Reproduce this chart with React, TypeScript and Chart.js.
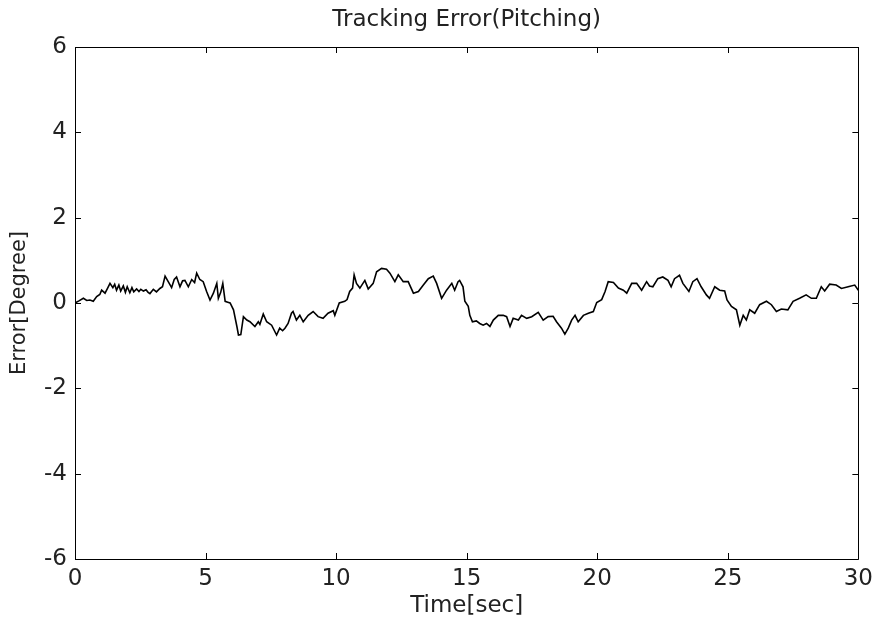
import React, { useEffect, useRef } from "react";
import { Chart, registerables } from "chart.js";

Chart.register(...registerables);

const titleText = "Tracking Error(Pitching)";
const xTitle = "Time[sec]";
const yTitle = "Error[Degree]";

const timeSec = [
  0, 0.15, 0.32, 0.45, 0.57, 0.7, 0.83, 0.95, 1.02, 1.15, 1.25, 1.34, 1.45, 1.52, 1.59, 1.68, 1.75, 1.85, 1.93, 2.0,
  2.1, 2.18, 2.25, 2.36, 2.45, 2.52, 2.62, 2.72, 2.8, 2.87, 3.0, 3.12, 3.25, 3.35, 3.45, 3.57, 3.7, 3.8, 3.89, 4.02,
  4.12, 4.21, 4.34, 4.47, 4.58, 4.66, 4.78, 4.91, 5.04, 5.17, 5.3, 5.43, 5.49, 5.58, 5.66, 5.75, 5.85, 5.94, 6.07, 6.2,
  6.26, 6.35, 6.45, 6.58, 6.7, 6.89, 7.02, 7.08, 7.21, 7.34, 7.53, 7.72, 7.84, 7.95, 8.04, 8.16, 8.29, 8.35, 8.48, 8.61,
  8.74, 8.93, 9.12, 9.31, 9.5, 9.69, 9.89, 9.95, 10.12, 10.33, 10.42, 10.52, 10.63, 10.69, 10.78, 10.91, 11.1, 11.23, 11.42, 11.55,
  11.74, 11.93, 12.06, 12.25, 12.38, 12.57, 12.76, 12.96, 13.15, 13.34, 13.53, 13.72, 13.85, 14.04, 14.23, 14.43, 14.54, 14.67, 14.73, 14.86,
  14.93, 15.06, 15.12, 15.22, 15.37, 15.5, 15.63, 15.76, 15.89, 16.02, 16.21, 16.4, 16.53, 16.66, 16.78, 16.98, 17.1, 17.3, 17.49, 17.74,
  17.93, 18.12, 18.31, 18.44, 18.63, 18.76, 18.89, 19.02, 19.15, 19.27, 19.47, 19.66, 19.85, 19.98, 20.17, 20.3, 20.42, 20.62, 20.81, 21.0,
  21.13, 21.32, 21.51, 21.7, 21.89, 22.0, 22.13, 22.32, 22.51, 22.71, 22.83, 22.96, 23.15, 23.28, 23.51, 23.66, 23.82, 23.98, 24.18, 24.3,
  24.5, 24.69, 24.88, 24.97, 25.14, 25.33, 25.46, 25.59, 25.71, 25.84, 26.03, 26.22, 26.48, 26.67, 26.86, 27.05, 27.3, 27.5, 27.75, 28.0,
  28.2, 28.39, 28.58, 28.71, 28.9, 29.15, 29.35, 29.61, 29.86, 30.0,
];

const errorDeg = [
  0.0, 0.05, 0.11, 0.06, 0.07, 0.04, 0.15, 0.2, 0.3, 0.23, 0.35, 0.46, 0.36, 0.44, 0.3, 0.42, 0.28, 0.4, 0.25, 0.38,
  0.24, 0.36, 0.26, 0.33, 0.27, 0.32, 0.28, 0.31, 0.25, 0.22, 0.32, 0.26, 0.34, 0.38, 0.63, 0.5, 0.36, 0.55, 0.61, 0.38,
  0.52, 0.53, 0.38, 0.55, 0.48, 0.7, 0.55, 0.5, 0.27, 0.07, 0.23, 0.46, 0.11, 0.25, 0.46, 0.04, 0.02, 0.0, -0.16, -0.55,
  -0.75, -0.74, -0.32, -0.4, -0.44, -0.55, -0.44, -0.5, -0.26, -0.44, -0.52, -0.75, -0.59, -0.65, -0.59, -0.48, -0.24, -0.2, -0.4, -0.29,
  -0.44, -0.29, -0.2, -0.32, -0.36, -0.24, -0.18, -0.29, 0.0, 0.04, 0.08, 0.27, 0.35, 0.66, 0.46, 0.35, 0.53, 0.33, 0.46, 0.73,
  0.81, 0.79, 0.7, 0.5, 0.66, 0.5, 0.5, 0.23, 0.27, 0.42, 0.57, 0.63, 0.46, 0.11, 0.3, 0.46, 0.3, 0.5, 0.53, 0.38,
  0.04, -0.08, -0.29, -0.44, -0.42, -0.48, -0.52, -0.48, -0.55, -0.4, -0.29, -0.29, -0.32, -0.55, -0.36, -0.4, -0.29, -0.36, -0.32, -0.22,
  -0.4, -0.32, -0.31, -0.44, -0.59, -0.73, -0.59, -0.4, -0.29, -0.44, -0.29, -0.24, -0.2, 0.01, 0.08, 0.27, 0.5, 0.48, 0.35, 0.3,
  0.23, 0.46, 0.46, 0.3, 0.5, 0.4, 0.38, 0.57, 0.61, 0.53, 0.38, 0.57, 0.65, 0.46, 0.27, 0.5, 0.57, 0.38, 0.19, 0.11,
  0.38, 0.3, 0.28, 0.07, -0.08, -0.16, -0.52, -0.29, -0.4, -0.16, -0.24, -0.04, 0.04, -0.04, -0.2, -0.14, -0.16, 0.04, 0.11, 0.19,
  0.11, 0.11, 0.38, 0.28, 0.44, 0.42, 0.34, 0.38, 0.42, 0.3,
];

const xTickValues = [0, 5, 10, 15, 20, 25, 30];
const yTickValues = [-6, -4, -2, 0, 2, 4, 6];

const FONT = "'DejaVu Sans', sans-serif";
const TEXT_COLOR = "#222";

const boxPlugin = {
  id: "matlabBox",
  afterDraw(chart: any) {
    const { ctx, chartArea, scales } = chart;
    const { left, right, top, bottom } = chartArea;
    const xs = scales.x;
    const ys = scales.y;
    const tl = 6;
    ctx.save();
    ctx.strokeStyle = "#000";
    ctx.lineWidth = 1;
    ctx.beginPath();
    ctx.rect(Math.round(left) + 0.5, Math.round(top) + 0.5, Math.round(right - left), Math.round(bottom - top));
    for (const v of xTickValues) {
      const px = Math.round(xs.getPixelForValue(v)) + 0.5;
      ctx.moveTo(px, bottom);
      ctx.lineTo(px, bottom - tl);
      ctx.moveTo(px, top);
      ctx.lineTo(px, top + tl);
    }
    for (const v of yTickValues) {
      const py = Math.round(ys.getPixelForValue(v)) + 0.5;
      ctx.moveTo(left, py);
      ctx.lineTo(left + tl, py);
      ctx.moveTo(right, py);
      ctx.lineTo(right - tl, py);
    }
    ctx.stroke();
    ctx.fillStyle = TEXT_COLOR;
    ctx.font = `23px ${FONT}`;
    ctx.textAlign = "center";
    ctx.textBaseline = "middle";
    ctx.fillText(titleText, (left + right) / 2, 20);
    ctx.restore();
  },
};

export default function App() {
  const ref = useRef<HTMLCanvasElement | null>(null);

  useEffect(() => {
    if (!ref.current) return;
    const points = timeSec.map((t, i) => ({ x: t, y: errorDeg[i] }));
    const chart = new Chart(ref.current, {
      type: "line",
      data: {
        datasets: [
          {
            data: points,
            borderColor: "#000",
            borderWidth: 1.6,
            pointRadius: 0,
            tension: 0,
            fill: false,
          },
        ],
      },
      options: {
        animation: false,
        responsive: false,
        devicePixelRatio: 1,
        layout: { padding: { top: 47, right: 20, left: 0, bottom: 0 } },
        plugins: { legend: { display: false }, tooltip: { enabled: false }, title: { display: false } },
        scales: {
          x: {
            type: "linear",
            min: 0,
            max: 30,
            afterBuildTicks: (s: any) => {
              s.ticks = xTickValues.map((v) => ({ value: v }));
            },
            afterFit: (s: any) => {
              s.height = 66;
            },
            ticks: {
              font: { family: FONT, size: 23 },
              color: TEXT_COLOR,
              padding: 6,
              maxRotation: 0,
              autoSkip: false,
            },
            grid: { display: false, drawTicks: false },
            border: { display: false },
            title: {
              display: true,
              text: xTitle,
              font: { family: FONT, size: 23 },
              color: TEXT_COLOR,
              padding: { top: 0, bottom: 5 },
            },
          },
          y: {
            type: "linear",
            min: -6,
            max: 6,
            afterBuildTicks: (s: any) => {
              s.ticks = yTickValues.map((v) => ({ value: v }));
            },
            afterFit: (s: any) => {
              s.width = 75;
            },
            ticks: {
              font: { family: FONT, size: 23 },
              color: TEXT_COLOR,
              padding: 8,
              autoSkip: false,
            },
            grid: { display: false, drawTicks: false },
            border: { display: false },
            title: {
              display: true,
              text: yTitle,
              font: { family: FONT, size: 21 },
              color: TEXT_COLOR,
              padding: { top: 7, bottom: 0 },
            },
          },
        },
      },
      plugins: [boxPlugin],
    });
    return () => chart.destroy();
  }, []);

  return (
    <div style={{ position: "absolute", left: 0, top: 0, width: 879, height: 625, background: "#fff" }}>
      <canvas ref={ref} width={879} height={625} style={{ display: "block" }} />
    </div>
  );
}
